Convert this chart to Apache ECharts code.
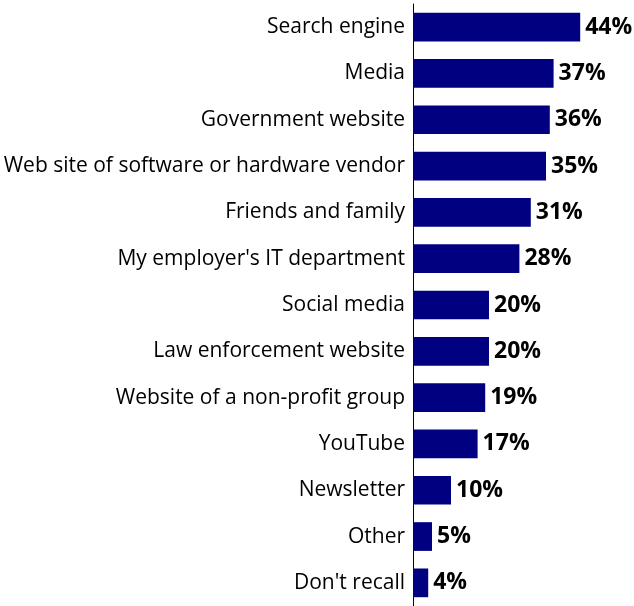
<!DOCTYPE html>
<html>
<head>
<meta charset="utf-8">
<script src="https://cdn.jsdelivr.net/npm/echarts@6/dist/echarts.min.js"></script>
<style>
  html, body { margin: 0; padding: 0; background: #ffffff; }
  #chart { width: 634px; height: 606px; }
</style>
</head>
<body>
<div id="chart"></div>
<script>
// Sources people turned to, top to bottom
const categories = [
  "Search engine",
  "Media",
  "Government website",
  "Web site of software or hardware vendor",
  "Friends and family",
  "My employer's IT department",
  "Social media",
  "Law enforcement website",
  "Website of a non-profit group",
  "YouTube",
  "Newsletter",
  "Other",
  "Don't recall"
];
// Share of respondents, percent
const shares = [44, 37, 36, 35, 31, 28, 20, 20, 19, 17, 10, 5, 4];

const chart = echarts.init(document.getElementById('chart'), null, { renderer: 'canvas' });

chart.setOption({
  animation: false,
  grid: { left: 413, top: 4, width: 190, bottom: -2, containLabel: false },
  xAxis: {
    type: 'value',
    min: 0,
    max: 50,
    show: false
  },
  yAxis: {
    type: 'category',
    data: categories,
    inverse: true,
    axisLine: { show: true, lineStyle: { color: '#000000', width: 1 } },
    axisTick: { show: false },
    axisLabel: {
      color: '#000000',
      fontFamily: 'Open Sans',
      fontSize: 21,
      margin: 8
    }
  },
  series: [{
    type: 'bar',
    data: shares,
    barWidth: '62%',
    itemStyle: { color: '#000080' },
    label: {
      show: true,
      position: 'right',
      distance: 5,
      formatter: p => p.value + '%',
      color: '#000000',
      fontFamily: 'Open Sans',
      fontWeight: 'bold',
      fontSize: 23
    }
  }]
});
</script>
</body>
</html>
